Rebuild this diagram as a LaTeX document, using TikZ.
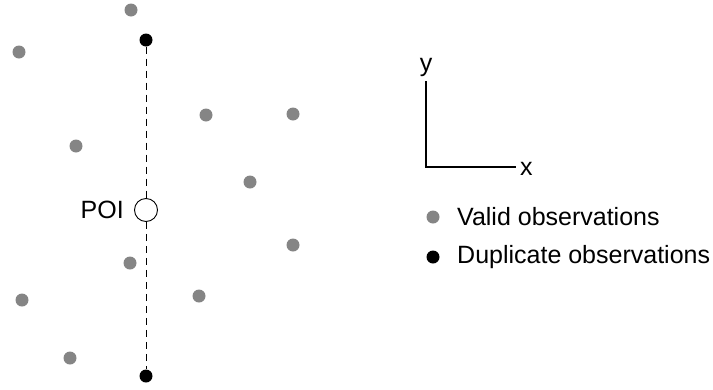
\documentclass[tikz,border=0pt]{standalone}
\usepackage{fontspec}
\setmainfont{Liberation Sans}
\begin{document}
\begin{tikzpicture}[x=1pt,y=-1pt,
  valid/.style={circle,fill=black!48,draw=none,minimum size=13pt,inner sep=0pt},
  dup/.style={circle,fill=black,draw=none,minimum size=13pt,inner sep=0pt},
  lbl/.style={font=\fontsize{25}{29}\selectfont,inner sep=0pt}]
\useasboundingbox (0,0) rectangle (713,389);
% valid observations
\node[valid] (v1) at (131,10) {};
\node[valid] (v2) at (19,52) {};
\node[valid] (v3) at (206,115) {};
\node[valid] (v4) at (293,114) {};
\node[valid] (v5) at (76,146) {};
\node[valid] (v6) at (250,182) {};
\node[valid] (v7) at (293,245) {};
\node[valid] (v8) at (130,263) {};
\node[valid] (v9) at (22,300) {};
\node[valid] (v10) at (199,296) {};
\node[valid] (v11) at (70,358) {};
% duplicates
\node[dup] (d1) at (146,40) {};
\node[dup] (d2) at (146,376) {};
% POI
\node[circle,draw=black,line width=0.9pt,fill=white,minimum size=23pt,inner sep=0pt] (poi) at (146,210) {};
\draw[line width=0.9pt,dash pattern=on 7pt off 5pt] (d1) -- (poi);
\draw[line width=0.9pt,dash pattern=on 7pt off 5pt] (poi) -- (d2);
\node[lbl,anchor=east] (poil) at (124,210) {POI};
% axes
\coordinate (o) at (426,167);
\coordinate (ytip) at (426,81);
\coordinate (xtip) at (516,167);
\draw[line width=2pt] (ytip) -- (o) -- (xtip);
\node[lbl,anchor=south] (ylab) at (426,77) {y};
\node[lbl,anchor=west] (xlab) at (520,169) {x};
% legend
\node[valid] (lv) at (433,217) {};
\node[lbl,anchor=west] (lvt) at (457,217) {Valid observations};
\node[dup] (ld) at (433,257) {};
\node[lbl,anchor=west] (ldt) at (457,257) {Duplicate observations};
\end{tikzpicture}
\end{document}
